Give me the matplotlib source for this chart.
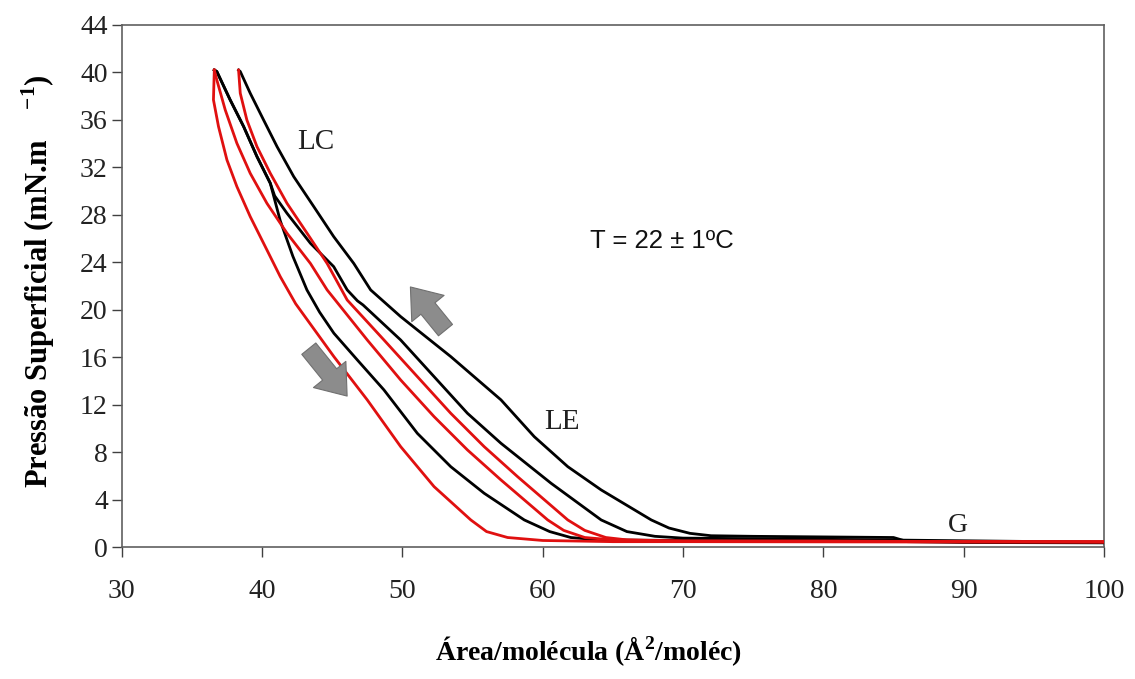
import matplotlib
matplotlib.use("Agg")
import matplotlib.pyplot as plt
from matplotlib.patches import FancyArrowPatch

# ---- data ----
# compression 1 (outer black)
c1_x = [100, 90, 86, 85, 80, 75, 72, 70.5, 69, 67.74, 64.17, 61.79, 59.4, 57.03, 53.45, 49.88,
        47.74, 46.54, 45.11, 43.69, 42.26, 41.07, 40.11, 39.16, 38.45, 38.33]
c1_y = [0.35, 0.38, 0.45, 0.8, 0.85, 0.9, 0.95, 1.15, 1.6, 2.28, 4.81, 6.77, 9.3, 12.4, 16.05, 19.42,
        21.67, 23.9, 26.16, 28.69, 31.22, 33.75, 36.0, 38.25, 40.08, 40.2]
# expansion 1 (red from right peak)
e1_x = [38.33, 38.45, 38.92, 39.64, 40.59, 41.78, 43.21, 44.64, 46.07, 48.69, 51.07, 53.45, 55.83,
        58.21, 61.79, 63, 64.5, 66, 70, 80, 90, 100]
e1_y = [40.2, 38.25, 36.0, 33.75, 31.5, 28.97, 26.45, 23.9, 20.82, 17.45, 14.36, 11.27, 8.46,
        5.93, 2.28, 1.4, 0.8, 0.6, 0.5, 0.5, 0.45, 0.45]
# compression 2 (middle black)
c2_x = [100, 80, 70, 68, 66, 64.17, 60.6, 57.03, 54.64, 52.26, 49.88, 47.2, 46.8, 46.07, 45.11,
        43.45, 41.78, 40.9, 40.59, 39.64, 38.69, 37.73, 36.78, 36.6]
c2_y = [0.4, 0.65, 0.75, 0.9, 1.3, 2.28, 5.37, 8.74, 11.27, 14.36, 17.45, 20.4, 20.75, 21.67, 23.63,
        25.6, 28.13, 29.6, 30.66, 32.91, 35.44, 37.69, 40.08, 40.2]
# expansion 2 (red from left peak)
e2_x = [36.6, 36.78, 37.38, 38.21, 39.16, 40.35, 41.78, 43.45, 44.64, 47.5, 49.88, 52.26, 54.64,
        57.03, 60.36, 61.5, 63, 65, 70, 100]
e2_y = [40.2, 39.37, 36.84, 34.03, 31.5, 28.97, 26.45, 23.9, 21.67, 17.45, 14.08, 10.99, 8.18,
        5.65, 2.28, 1.4, 0.8, 0.6, 0.5, 0.45]
# compression 3 (inner black)
c3_x = [100, 70, 64, 62, 60.5, 58.69, 55.83, 53.45, 51.07, 48.69, 46.79, 45.12, 44.1, 43.2, 42.2,
        41.3, 40.59, 39.64, 38.69, 37.73, 36.78, 36.6]
c3_y = [0.4, 0.55, 0.6, 0.8, 1.3, 2.28, 4.53, 6.77, 9.58, 13.24, 15.77, 18.02, 19.8, 21.67, 24.5,
        27.5, 30.66, 32.91, 35.44, 37.69, 40.08, 40.2]
# expansion 3 (leftmost red)
e3_x = [36.6, 36.54, 36.9, 37.5, 38.21, 39.16, 40.35, 41.3, 42.4, 45.12, 47.5, 49.88, 52.26, 54.88,
        56, 57.5, 60, 65, 70, 100]
e3_y = [40.2, 37.69, 35.44, 32.63, 30.38, 27.85, 25.04, 22.79, 20.5, 16.05, 12.4, 8.46, 5.09, 2.28,
        1.3, 0.8, 0.55, 0.45, 0.45, 0.4]

x_ticks = [30, 40, 50, 60, 70, 80, 90, 100]
y_ticks = [0, 4, 8, 12, 16, 20, 24, 28, 32, 36, 40, 44]

plt.rcParams['font.family'] = ['Liberation Serif', 'DejaVu Serif']
plt.rcParams['mathtext.fontset'] = 'custom'
plt.rcParams['mathtext.rm'] = 'Liberation Serif'
plt.rcParams['mathtext.bf'] = 'Liberation Serif:bold'
fig = plt.figure(figsize=(11.35, 6.79), dpi=100)
ax = fig.add_axes([0.1072, 0.1944, 0.8655, 0.7688])

BLACK = '#000000'
RED = '#e01010'
lw = 2.0
ax.plot(c1_x, c1_y, color=BLACK, lw=lw, zorder=3)
ax.plot(c2_x, c2_y, color=BLACK, lw=lw, zorder=3)
ax.plot(c3_x, c3_y, color=BLACK, lw=lw, zorder=3)
ax.plot(e1_x, e1_y, color=RED, lw=lw, zorder=4)
ax.plot(e2_x, e2_y, color=RED, lw=lw, zorder=4)
ax.plot(e3_x, e3_y, color=RED, lw=lw, zorder=4)

ax.set_xlim(30, 100)
ax.set_ylim(0, 44)
ax.set_xticks(x_ticks)
ax.set_yticks(y_ticks)
ax.tick_params(direction='out', length=7, width=1, colors='#404040', labelsize=20,
               labelcolor='#222222')
ax.tick_params(axis='x', pad=16)
ax.tick_params(axis='y', pad=3)
for s in ax.spines.values():
    s.set_color('#606060')
    s.set_linewidth(1.2)

ax.set_xlabel('Área/molécula (Å$^{\\mathbf{2}}$/moléc)', fontsize=20, fontweight='bold')
ax.xaxis.set_label_coords(0.475, -0.168)
ax.set_ylabel('Pressão Superficial (mN.m    $^{\\mathbf{-1}}$)', fontsize=22, fontweight='bold')
ax.yaxis.set_label_coords(-0.066, 0.51)

# annotations
ax.text(43.8, 34.1, 'LC', fontsize=21, ha='center', va='center', color='#202020')
ax.text(61.4, 10.5, 'LE', fontsize=21, ha='center', va='center', color='#202020')
ax.text(89.6, 1.8, 'G', fontsize=20, ha='center', va='center', color='#202020')
ax.text(68.5, 25.8, 'T = 22 ± 1ºC', fontsize=18.5, ha='center', va='center',
        family=['Liberation Sans', 'DejaVu Sans'], color='#111111')

arrow_style = 'simple,head_width=1.5,head_length=1.0,tail_width=0.65'
for (xt, yt), (xh, yh) in [((53.2, 18.1), (50.45, 22.1)), ((43.21, 16.9), (46.19, 12.54))]:
    a = FancyArrowPatch((xt, yt), (xh, yh), arrowstyle=arrow_style, mutation_scale=20,
                        facecolor='#8c8c8c', edgecolor='#707070', lw=0.8, zorder=5)
    ax.add_patch(a)

fig.savefig('out.png', dpi=100)
